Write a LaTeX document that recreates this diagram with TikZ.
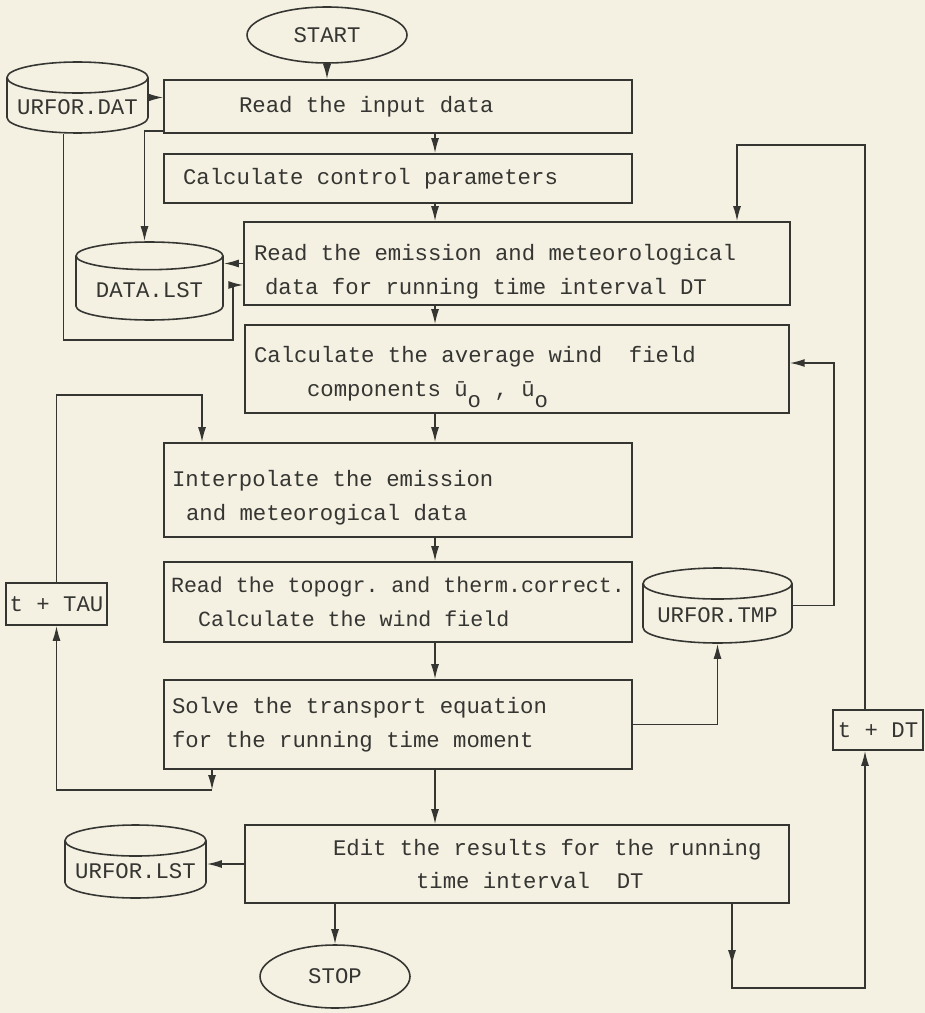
\documentclass[tikz,border=0pt]{standalone}
\usepackage{fontspec}
\setmonofont{Liberation Mono}
\usetikzlibrary{arrows.meta,shapes.geometric,decorations.markings}
\definecolor{ScanInk}{HTML}{353532}
\definecolor{ScanPaper}{HTML}{F4F0E2}
\newcommand{\scanfont}[1][12.7]{\ttfamily\fontsize{#1}{19.3}\selectfont}
\newcommand{\subo}{\raisebox{-0.5em}{o}}
\newcommand{\dropline}{\rule{0pt}{0.64cm}}

\begin{document}
\begin{tikzpicture}[x=0.02cm,y=-0.02cm,
    every node/.style={text=ScanInk},
    procbox/.style={draw=ScanInk,line width=0.9pt,inner xsep=0pt,inner ysep=0pt,align=flush left,font=\scanfont},
    filebox/.style={cylinder,shape border rotate=90,aspect=0.25,draw=ScanInk,line width=0.9pt,
      inner sep=1pt,anchor=shape center,font=\scanfont},
    termbox/.style={ellipse,draw=ScanInk,line width=0.9pt,inner sep=0pt,font=\scanfont},
    flow/.style={-{Latex[length=3mm,width=1.6mm]},draw=ScanInk,line width=0.9pt}]
    \path[use as bounding box,fill=ScanPaper] (0,0) rectangle (925,1013);
    % main column
    \node[termbox,minimum width=3.2cm,minimum height=1.12cm] (start) at (327,35) {START};
    \node[procbox,text width=9.36cm,minimum height=1.06cm] (input) at (398,106.5)
      {\hspace*{1.5cm}Read the input data};
    \node[procbox,text width=9.36cm,minimum height=0.98cm] (control) at (398,178.5)
      {\hspace*{0.38cm}Calculate control parameters};
    \node[procbox,text width=10.92cm,minimum height=1.66cm] (emission) at (517,263.5)
      {\dropline\hspace*{0.2cm}Read the emission and meteorological\\\hspace*{0.42cm}data for running time interval DT};
    \node[procbox,text width=10.88cm,minimum height=1.76cm] (average) at (517,369)
      {\dropline\hspace*{0.18cm}Calculate the average wind~~field\\\hspace*{1.24cm}components ū\subo{} , ū\subo};
    \node[procbox,text width=9.36cm,minimum height=1.88cm] (interp) at (398,490)
      {\dropline\hspace*{0.16cm}Interpolate the emission\\\hspace*{0.44cm}and meteorogical data};
    \node[procbox,text width=9.36cm,minimum height=1.6cm,font={\scanfont[12.3]}] (topogr) at (398,602)
      {\hspace*{0.14cm}Read the topogr. and therm.correct.\\\hspace*{0.68cm}Calculate the wind field};
    \node[procbox,text width=9.36cm,minimum height=1.78cm] (solve) at (398,724.5)
      {\hspace*{0.16cm}Solve the transport equation\\\hspace*{0.16cm}for the running time moment};
    \node[procbox,text width=10.88cm,minimum height=1.56cm] (edit) at (517,864)
      {\hspace*{1.76cm}Edit the results for the running\\\hspace*{3.42cm}time interval~~DT};
    \node[termbox,minimum width=3cm,minimum height=1.26cm] (stop) at (335,976.5) {STOP};
    % time steps
    \node[procbox,align=center,minimum width=2.02cm,minimum height=0.84cm] (tau) at (56.5,604) {t + TAU};
    \node[procbox,align=center,minimum width=1.8cm,minimum height=0.8cm] (dt) at (878,730) {t + DT};
    % files
    \node[filebox,minimum width=2.82cm,minimum height=1.42cm] (urfordat) at (77.5,97.5) {URFOR.DAT};
    \node[filebox,minimum width=2.94cm,minimum height=1.56cm] (datalst) at (149.5,281) {DATA.LST};
    \node[filebox,minimum width=2.98cm,minimum height=1.5cm] (urfortmp) at (717.5,605.5) {URFOR.TMP};
    \node[filebox,minimum width=2.82cm,minimum height=1.46cm] (urforlst) at (135.5,861.5) {URFOR.LST};
    % corners of the loops
    \coordinate (spine) at (435,0);
    \coordinate (datloop) at (233,340);
    \coordinate (dtloop) at (737,145);
    \coordinate (endloop) at (732,988);
    \coordinate (tauloop) at (212,790);
    \coordinate (tautop) at (202,395);
    \coordinate (tmploop) at (834,363);
    \draw[flow] (start.south) -- (start.south |- input.north);
    \foreach \a/\b in {input/control,control/emission,emission/average,average/interp,interp/topogr,topogr/solve,solve/edit}
      \draw[flow] (spine |- \a.south) -- (spine |- \b.north);
    \draw[flow] (urfordat.east |- urfordat.shape center) -- (urfordat.shape center -| input.west);
    \draw[flow] ([yshift=0.06cm]input.south west) -| ([xshift=-0.1cm]datalst.north);
    \draw[flow] (emission.west) -- (emission.west -| datalst.east);
    \draw[flow] ([xshift=-0.28cm]urfordat.south) |- (datloop) |- ([yshift=-0.43cm]emission.west);
    \draw[flow] ([xshift=-0.26cm]dt.north) |- (dtloop) -- (dtloop |- emission.north);
    \draw[flow,postaction={decorate},
      decoration={markings,mark=at position 0.135 with {\arrow{Latex[length=3mm,width=1.6mm]}}}]
      (endloop |- edit.south) -- (endloop) -| ([xshift=-0.26cm]dt.south);
    \draw[flow] (tauloop |- solve.south) -- (tauloop);
    \draw[flow] (tauloop) -| (tau.south);
    \draw[flow] (tau.north) |- (tautop) -- (tautop |- interp.north);
    \draw[flow] (solve.east) -| (urfortmp.south);
    \draw[flow] (urfortmp.east |- urfortmp.shape center) -| (tmploop) -- (tmploop -| average.east);
    \draw[flow] (edit.west) -- (edit.west -| urforlst.east);
    \draw[flow] (stop.north |- edit.south) -- (stop.north);
\end{tikzpicture}
\end{document}
